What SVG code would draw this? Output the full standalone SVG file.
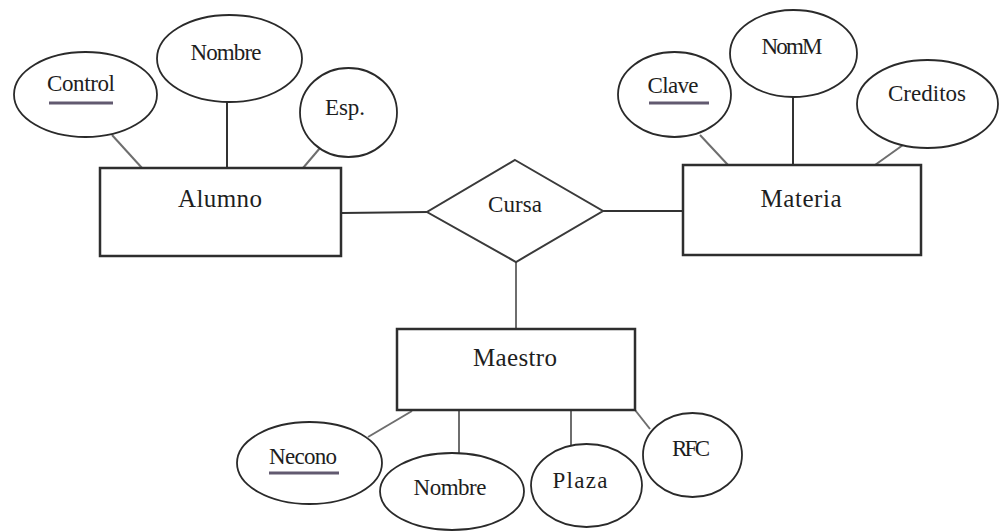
<svg xmlns="http://www.w3.org/2000/svg" width="1000" height="531" viewBox="0 0 1000 531">
  <style>
    .bg { fill: #ffffff; }
    .entity { fill: #ffffff; stroke: #2e2e2e; stroke-width: 2.5; }
    .attr { fill: #ffffff; stroke: #2a2a2a; stroke-width: 1.8; }
    .rel { fill: #ffffff; stroke: #3a3a3a; stroke-width: 2; }
    .link { stroke: #333333; stroke-width: 2; fill: none; }
    .link.soft { stroke: #6e6e6e; }
    .key { stroke: #625a70; stroke-width: 3; }
    text { font-family: "Liberation Serif", "Times New Roman", serif; fill: #1e1e1e; text-anchor: middle; }
    .ename { font-size: 25px; }
    .aname { font-size: 23px; }
  </style>
  <rect class="bg" x="0" y="0" width="1000" height="531"/>

  <!-- connectors -->
  <g id="connectors">
    <!-- Alumno attributes -->
    <line class="link soft" x1="112" y1="135" x2="142" y2="168"/>
    <line class="link" x1="227" y1="102" x2="227" y2="168"/>
    <line class="link soft" x1="320" y1="148" x2="303" y2="168"/>
    <!-- Materia attributes -->
    <line class="link soft" x1="700" y1="135" x2="728" y2="165"/>
    <line class="link" x1="793" y1="97" x2="793" y2="165"/>
    <line class="link soft" x1="903" y1="145" x2="875" y2="165"/>
    <!-- relationship links -->
    <line class="link" x1="342" y1="213" x2="428" y2="212"/>
    <line class="link" x1="603" y1="211" x2="683" y2="211"/>
    <line class="link soft" x1="516" y1="262" x2="516" y2="328"/>
    <!-- Maestro attributes -->
    <line class="link soft" x1="412" y1="411" x2="368" y2="437"/>
    <line class="link soft" x1="459" y1="410" x2="459" y2="453"/>
    <line class="link soft" x1="571" y1="410" x2="571" y2="445"/>
    <line class="link soft" x1="635" y1="410" x2="650" y2="429"/>
  </g>

  <!-- entities -->
  <g id="alumno">
    <rect class="entity" x="100" y="168" width="241" height="88"/>
    <text class="ename" x="220" y="207" textLength="84">Alumno</text>
  </g>
  <g id="materia">
    <rect class="entity" x="683" y="165" width="238" height="90"/>
    <text class="ename" x="801" y="207" textLength="81">Materia</text>
  </g>
  <g id="maestro">
    <rect class="entity" x="397" y="329" width="238" height="81"/>
    <text class="ename" x="515" y="366" textLength="84">Maestro</text>
  </g>

  <!-- relationship -->
  <g id="cursa">
    <polygon class="rel" points="515,160 603,211 516,262 427,212"/>
    <text class="aname" x="515" y="212" textLength="54">Cursa</text>
  </g>

  <!-- Alumno attributes -->
  <g id="alumno-control">
    <ellipse class="attr" cx="85.5" cy="94.5" rx="71.5" ry="42.5"/>
    <text class="aname" x="81" y="91" textLength="68">Control</text>
    <line class="key" x1="49" y1="103" x2="113" y2="103"/>
  </g>
  <g id="alumno-nombre">
    <ellipse class="attr" cx="229.5" cy="58.5" rx="72.5" ry="43.5"/>
    <text class="aname" x="226" y="60" textLength="71">Nombre</text>
  </g>
  <g id="alumno-esp">
    <ellipse class="attr" cx="348.5" cy="112.5" rx="48.5" ry="44.5"/>
    <text class="aname" x="345" y="115" textLength="40">Esp.</text>
  </g>

  <!-- Materia attributes -->
  <g id="materia-clave">
    <ellipse class="attr" cx="674.5" cy="94.5" rx="56.5" ry="42.5"/>
    <text class="aname" x="673" y="93" textLength="51">Clave</text>
    <line class="key" x1="649" y1="103" x2="709" y2="103"/>
  </g>
  <g id="materia-nomm">
    <ellipse class="attr" cx="793.5" cy="53.5" rx="63.5" ry="43.5"/>
    <text class="aname" x="792" y="54" textLength="61">NomM</text>
  </g>
  <g id="materia-creditos">
    <ellipse class="attr" cx="927.5" cy="104" rx="70.5" ry="44"/>
    <text class="aname" x="927" y="101" textLength="78">Creditos</text>
  </g>

  <!-- Maestro attributes -->
  <g id="maestro-necono">
    <ellipse class="attr" cx="309.5" cy="463" rx="72.5" ry="41"/>
    <text class="aname" x="303" y="464" textLength="68">Necono</text>
    <line class="key" x1="269" y1="473" x2="339" y2="473"/>
  </g>
  <g id="maestro-nombre">
    <ellipse class="attr" cx="452" cy="491.5" rx="72" ry="38.5"/>
    <text class="aname" x="450" y="495" textLength="73">Nombre</text>
  </g>
  <g id="maestro-plaza">
    <ellipse class="attr" cx="586.5" cy="485.5" rx="55.5" ry="41.5"/>
    <text class="aname" x="580" y="488" textLength="55">Plaza</text>
  </g>
  <g id="maestro-rfc">
    <ellipse class="attr" cx="692.5" cy="455" rx="49.5" ry="42"/>
    <text class="aname" x="691" y="456" textLength="38">RFC</text>
  </g>
</svg>
